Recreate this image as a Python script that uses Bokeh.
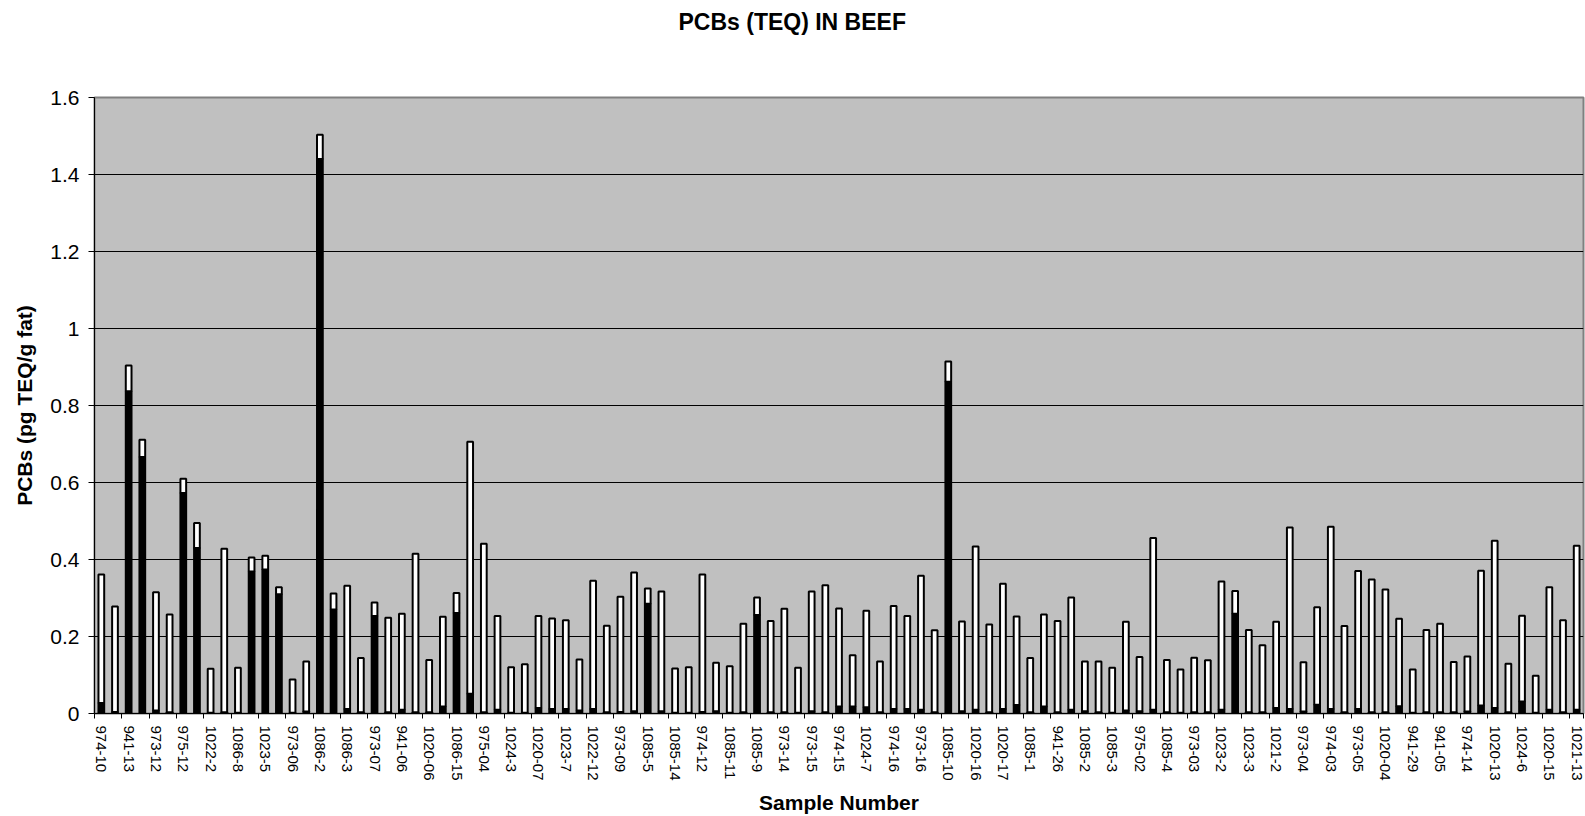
import numpy as np
from bokeh.plotting import figure
from bokeh.models import Range1d, FixedTicker, ColumnDataSource, Title
from bokeh.embed import file_html
from bokeh.resources import INLINE

# Sample numbers shown on the axis (every second bar is labelled)
tick_labels = [
    "974-10", "941-13", "973-12", "975-12", "1022-2", "1086-8", "1023-5", "973-06",
    "1086-2", "1086-3", "973-07", "941-06", "1020-06", "1086-15", "975-04", "1024-3",
    "1020-07", "1023-7", "1022-12", "973-09", "1085-5", "1085-14", "974-12", "1085-11",
    "1085-9", "973-14", "973-15", "974-15", "1024-7", "974-16", "973-16", "1085-10",
    "1020-16", "1020-17", "1085-1", "941-26", "1085-2", "1085-3", "975-02", "1085-4",
    "973-03", "1023-2", "1023-3", "1021-2", "973-04", "974-03", "973-05", "1020-04",
    "941-29", "941-05", "974-14", "1020-13", "1024-6", "1020-15", "1021-13",
]

# Total bar height (pg TEQ/g fat)
total_teq = [
    0.361, 0.278, 0.904, 0.711, 0.315, 0.257, 0.610, 0.495, 0.116, 0.428,
    0.119, 0.405, 0.410, 0.328, 0.088, 0.135, 1.503, 0.312, 0.332, 0.144,
    0.288, 0.249, 0.259, 0.415, 0.139, 0.251, 0.313, 0.706, 0.441, 0.253,
    0.120, 0.128, 0.253, 0.247, 0.242, 0.140, 0.345, 0.228, 0.303, 0.366,
    0.325, 0.317, 0.117, 0.120, 0.361, 0.132, 0.123, 0.233, 0.301, 0.240,
    0.272, 0.119, 0.317, 0.333, 0.273, 0.151, 0.267, 0.135, 0.279, 0.253,
    0.358, 0.216, 0.914, 0.239, 0.434, 0.231, 0.337, 0.252, 0.144, 0.257,
    0.240, 0.301, 0.135, 0.135, 0.119, 0.238, 0.147, 0.456, 0.139, 0.114,
    0.145, 0.138, 0.343, 0.318, 0.217, 0.177, 0.238, 0.483, 0.133, 0.276,
    0.485, 0.227, 0.370, 0.348, 0.322, 0.246, 0.114, 0.217, 0.233, 0.134,
    0.148, 0.371, 0.449, 0.129, 0.254, 0.098, 0.328, 0.242, 0.436,
]

# Lower (black) part of each bar
black_teq = [
    0.027, 0.004, 0.837, 0.666, 0.008, 0.003, 0.573, 0.430, 0.002, 0.003,
    0.002, 0.369, 0.374, 0.310, 0.002, 0.005, 1.440, 0.270, 0.012, 0.003,
    0.253, 0.003, 0.010, 0.003, 0.003, 0.018, 0.261, 0.051, 0.003, 0.010,
    0.002, 0.002, 0.014, 0.012, 0.012, 0.008, 0.012, 0.003, 0.004, 0.006,
    0.285, 0.006, 0.002, 0.002, 0.004, 0.006, 0.002, 0.003, 0.256, 0.003,
    0.003, 0.002, 0.006, 0.003, 0.018, 0.018, 0.016, 0.003, 0.012, 0.012,
    0.010, 0.003, 0.862, 0.006, 0.010, 0.003, 0.012, 0.022, 0.003, 0.018,
    0.003, 0.010, 0.006, 0.003, 0.002, 0.008, 0.006, 0.010, 0.003, 0.002,
    0.003, 0.003, 0.010, 0.259, 0.003, 0.003, 0.014, 0.012, 0.005, 0.023,
    0.012, 0.003, 0.012, 0.003, 0.003, 0.019, 0.002, 0.003, 0.003, 0.003,
    0.005, 0.021, 0.014, 0.003, 0.031, 0.002, 0.010, 0.003, 0.010,
]

y_ticks = [0, 0.2, 0.4, 0.6, 0.8, 1.0, 1.2, 1.4, 1.6]
y_tick_text = ["0", "0.2", "0.4", "0.6", "0.8", "1", "1.2", "1.4", "1.6"]

n = len(total_teq)
xs = np.arange(1, n + 1)
black = np.array(black_teq)
total = np.array(total_teq)

src = ColumnDataSource(dict(x=xs, zero=np.zeros(n), black=black, total=total))

FONT = "Liberation Sans"

p = figure(width=1585, height=816, output_backend="svg", toolbar_location=None,
           title_location=None,
           x_range=Range1d(0.5, n + 0.5), y_range=Range1d(0, 1.6),
           min_border_left=94, min_border_right=2, min_border_top=97, min_border_bottom=103)

p.vbar(x="x", bottom="zero", top="black", width=0.42, source=src,
       fill_color="black", line_color="black", line_width=2)
p.vbar(x="x", bottom="black", top="total", width=0.42, source=src,
       fill_color="white", line_color="black", line_width=2)

p.background_fill_color = "#C0C0C0"
p.border_fill_color = "white"
p.outline_line_color = "#808080"
p.outline_line_width = 2

p.xgrid.visible = False
p.ygrid.grid_line_color = "black"
p.ygrid.grid_line_width = 1

# Spacer panel between the title and the plot frame (closest to the frame)
p.add_layout(Title(text=" ", text_font_size="10px", standoff=44), "above")
# Main title (outermost)
p.add_layout(Title(text="PCBs (TEQ) IN BEEF", text_color="black", text_font=FONT,
                   text_font_style="bold", text_font_size="23px",
                   align="left", offset=584, standoff=12), "above")

# Y axis
p.yaxis.ticker = FixedTicker(ticks=y_ticks)
p.yaxis.major_label_overrides = {t: s for t, s in zip(y_ticks, y_tick_text)}
p.yaxis.major_label_text_font = FONT
p.yaxis.major_label_text_color = "black"
p.yaxis.major_label_text_font_size = "21px"
p.yaxis.major_label_standoff = 9
p.yaxis.major_tick_out = 6
p.yaxis.major_tick_in = 0
p.yaxis.major_tick_line_color = "black"
p.yaxis.minor_tick_line_color = None
p.yaxis.axis_line_color = "black"
p.yaxis.axis_label = "PCBs (pg TEQ/g fat)"
p.yaxis.axis_label_text_font = FONT
p.yaxis.axis_label_text_color = "black"
p.yaxis.axis_label_text_font_style = "bold"
p.yaxis.axis_label_text_font_size = "21px"
p.yaxis.axis_label_standoff = 11

# X axis
label_pos = [int(v) for v in xs[::2]]
boundaries = [float(v) - 0.5 for v in xs[::2]] + [n + 0.5]
p.xaxis.ticker = FixedTicker(ticks=label_pos, minor_ticks=boundaries)
p.xaxis.major_label_overrides = {pos: lab for pos, lab in zip(label_pos, tick_labels)}
p.xaxis.major_label_orientation = "vertical"
p.xaxis.major_label_text_font = FONT
p.xaxis.major_label_text_color = "black"
p.xaxis.major_label_text_font_size = "15px"
p.xaxis.major_label_standoff = 7
p.xaxis.major_tick_line_color = None
p.xaxis.major_tick_out = 0
p.xaxis.major_tick_in = 0
p.xaxis.minor_tick_line_color = "black"
p.xaxis.minor_tick_out = 5
p.xaxis.minor_tick_in = 0
p.xaxis.axis_line_color = "black"
p.xaxis.axis_label = "Sample Number"
p.xaxis.axis_label_text_font = FONT
p.xaxis.axis_label_text_color = "black"
p.xaxis.axis_label_text_font_style = "bold"
p.xaxis.axis_label_text_font_size = "21px"
p.xaxis.axis_label_standoff = 7

open("out.html", "w").write(file_html(p, INLINE))
